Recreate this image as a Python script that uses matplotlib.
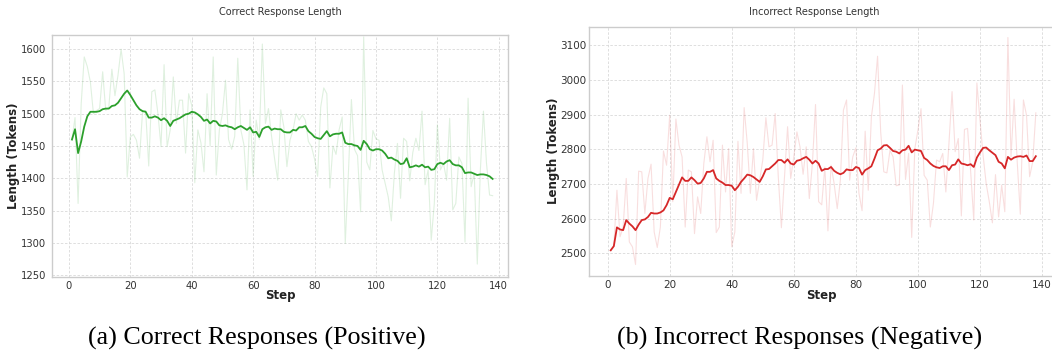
import matplotlib.pyplot as plt

W, H = 1052, 356

steps = list(range(1, 139))

# Correct responses: raw per-step length and the smoothed curve
correct_raw = [
    1460, 1494, 1361, 1515, 1588, 1573, 1549, 1500, 1505, 1508,
    1565, 1505, 1510, 1569, 1528, 1560, 1600, 1562, 1402, 1464,
    1468, 1459, 1431, 1504, 1505, 1419, 1534, 1537, 1500, 1449,
    1576, 1449, 1475, 1557, 1485, 1521, 1521, 1439, 1531, 1513,
    1393, 1475, 1455, 1410, 1531, 1450, 1588, 1405, 1475, 1500,
    1552, 1460, 1445, 1465, 1586, 1475, 1452, 1382, 1506, 1403,
    1490, 1460, 1608, 1485, 1508, 1465, 1430, 1397, 1506, 1480,
    1418, 1459, 1475, 1500, 1490, 1498, 1490, 1457, 1449, 1430,
    1403, 1510, 1540, 1531, 1385, 1450, 1437, 1475, 1495, 1299,
    1405, 1522, 1445, 1435, 1348, 1619, 1425, 1413, 1474, 1461,
    1459, 1413, 1392, 1371, 1334, 1408, 1454, 1369, 1462, 1457,
    1396, 1440, 1462, 1443, 1504, 1390, 1413, 1304, 1361, 1483,
    1413, 1423, 1397, 1493, 1351, 1361, 1433, 1423, 1301, 1524,
    1387, 1408, 1267, 1413, 1504, 1423, 1374, 1373,
]
correct_smooth = [
    1460, 1476, 1439, 1457, 1480, 1496, 1503, 1503, 1503, 1504,
    1507, 1508, 1508, 1512, 1513, 1517, 1524, 1531, 1536, 1529,
    1521, 1513, 1507, 1504, 1503, 1494, 1494, 1496, 1494, 1490,
    1493, 1489, 1481, 1489, 1491, 1493, 1496, 1499, 1500, 1503,
    1502, 1499, 1495, 1489, 1491, 1485, 1489, 1488, 1482, 1481,
    1482, 1480, 1479, 1476, 1479, 1481, 1478, 1475, 1479, 1471,
    1472, 1464, 1476, 1479, 1480, 1475, 1477, 1476, 1476, 1472,
    1471, 1471, 1475, 1474, 1479, 1479, 1481, 1473, 1469, 1464,
    1462, 1461, 1467, 1473, 1465, 1468, 1469, 1469, 1471, 1455,
    1453, 1453, 1451, 1450, 1444, 1458, 1453, 1445, 1443, 1445,
    1445, 1443, 1438, 1431, 1432, 1429, 1427, 1422, 1423, 1431,
    1417, 1418, 1420, 1418, 1421, 1417, 1418, 1413, 1414, 1422,
    1424, 1422, 1426, 1428, 1422, 1420, 1420, 1417, 1408, 1409,
    1409, 1407, 1405, 1406, 1406, 1405, 1403, 1399,
]

# Incorrect responses
incorrect_raw = [
    2509, 2521, 2682, 2548, 2576, 2716, 2533, 2519, 2468, 2737,
    2735, 2615, 2716, 2757, 2562, 2517, 2576, 2795, 2754, 2898,
    2649, 2887, 2812, 2778, 2576, 2740, 2735, 2557, 2663, 2615,
    2759, 2836, 2764, 2826, 2560, 2576, 2812, 2677, 2802, 2519,
    2562, 2823, 2673, 2920, 2817, 2673, 2802, 2653, 2711, 2769,
    2891, 2807, 2812, 2903, 2721, 2574, 2722, 2865, 2716, 2778,
    2850, 2807, 2728, 2807, 2658, 2759, 2929, 2649, 2640, 2749,
    2565, 2754, 2701, 2629, 2711, 2913, 2942, 2711, 2778, 2804,
    2673, 2623, 2852, 2682, 2893, 2961, 3068, 2850, 2735, 2732,
    2797, 2778, 2695, 2697, 2985, 2713, 2788, 2546, 2802, 2855,
    2917, 2725, 2711, 2576, 2644, 2769, 2764, 2788, 2677, 2817,
    2966, 2793, 2831, 2608, 2857, 2860, 2735, 2596, 2991, 2884,
    2783, 2701, 2649, 2588, 2727, 2605, 2697, 2620, 3122, 2778,
    2944, 2764, 2613, 2942, 2898, 2721, 2764, 2905,
]
incorrect_smooth = [
    2509, 2521, 2575, 2569, 2567, 2596, 2586, 2578, 2567, 2583,
    2596, 2598, 2605, 2617, 2615, 2615, 2618, 2624, 2639, 2660,
    2656, 2677, 2698, 2719, 2709, 2709, 2719, 2711, 2701, 2703,
    2716, 2735, 2735, 2740, 2716, 2709, 2704, 2697, 2697, 2695,
    2682, 2692, 2706, 2716, 2727, 2725, 2720, 2713, 2706, 2722,
    2742, 2743, 2751, 2759, 2769, 2769, 2761, 2771, 2759, 2756,
    2767, 2769, 2774, 2778, 2770, 2759, 2767, 2759, 2738, 2743,
    2743, 2749, 2738, 2732, 2728, 2732, 2742, 2740, 2740, 2749,
    2746, 2727, 2740, 2745, 2751, 2773, 2797, 2802, 2811, 2812,
    2804, 2795, 2793, 2788, 2797, 2799, 2810, 2791, 2799, 2797,
    2795, 2775, 2769, 2759, 2752, 2748, 2746, 2751, 2751, 2740,
    2754, 2756, 2771, 2759, 2757, 2754, 2757, 2749, 2776, 2791,
    2804, 2805, 2797, 2790, 2783, 2764, 2759, 2745, 2778, 2770,
    2776, 2779, 2780, 2778, 2782, 2766, 2766, 2780,
]

fig = plt.figure(figsize=(W / 100, H / 100), dpi=100)


def px_axes(left, top, right, bottom):
    return fig.add_axes([left / W, 1 - bottom / H, (right - left) / W, (bottom - top) / H])


def style(ax, xlim, ylim, yticks, fs, ypad):
    ax.set_xlim(*xlim)
    ax.set_ylim(*ylim)
    ax.set_xticks(range(0, 141, 20))
    ax.set_yticks(yticks)
    ax.grid(True, color="#d9d9d9", linestyle=(0, (3, 2)), linewidth=0.6)
    ax.set_axisbelow(True)
    for sp in ax.spines.values():
        sp.set_color("#cccccc")
        sp.set_linewidth(1.0)
    ax.tick_params(length=0, labelsize=fs, labelcolor="#333333")
    ax.tick_params(axis="x", pad=3)
    ax.tick_params(axis="y", pad=ypad)


# (a) correct
ax1 = px_axes(52, 35, 508, 277)
ax1.plot(steps, correct_raw, color="#2ca02c", alpha=0.15, linewidth=0.8)
ax1.plot(steps, correct_smooth, color="#2ca02c", linewidth=1.3)
style(ax1, (-5.5, 143), (1247, 1622), range(1250, 1601, 50), 7.2, 4)

# (b) incorrect -- its right edge runs off the picture
ax2 = px_axes(589, 26.7, 1065, 276)
ax2.plot(steps, incorrect_raw, color="#d62728", alpha=0.15, linewidth=0.8)
ax2.plot(steps, incorrect_smooth, color="#d62728", linewidth=1.3)
style(ax2, (-6, 147.4), (2435, 3153), range(2500, 3101, 100), 7.5, 2)

lab = dict(fontsize=8.5, fontweight="bold", color="#222222", ha="center", va="center")
fig.text(280 / W, 1 - 12 / H, "Correct Response Length", fontsize=7, color="#333333", ha="center", va="center")
fig.text(814 / W, 1 - 12 / H, "Incorrect Response Length", fontsize=7, color="#333333", ha="center", va="center")
fig.text(280 / W, 1 - 296 / H, "Step", **lab)
fig.text(821 / W, 1 - 296 / H, "Step", **lab)
fig.text(14 / W, 1 - 156 / H, "Length (Tokens)", rotation=90, **lab)
fig.text(553 / W, 1 - 151 / H, "Length (Tokens)", rotation=90, **lab)

cap = dict(fontsize=18.7, family="Liberation Serif", color="black", ha="center", va="center")
fig.text(257 / W, 1 - 338 / H, "(a) Correct Responses (Positive)", **cap)
fig.text(800 / W, 1 - 338 / H, "(b) Incorrect Responses (Negative)", **cap)

fig.savefig("out.png", dpi=100)
